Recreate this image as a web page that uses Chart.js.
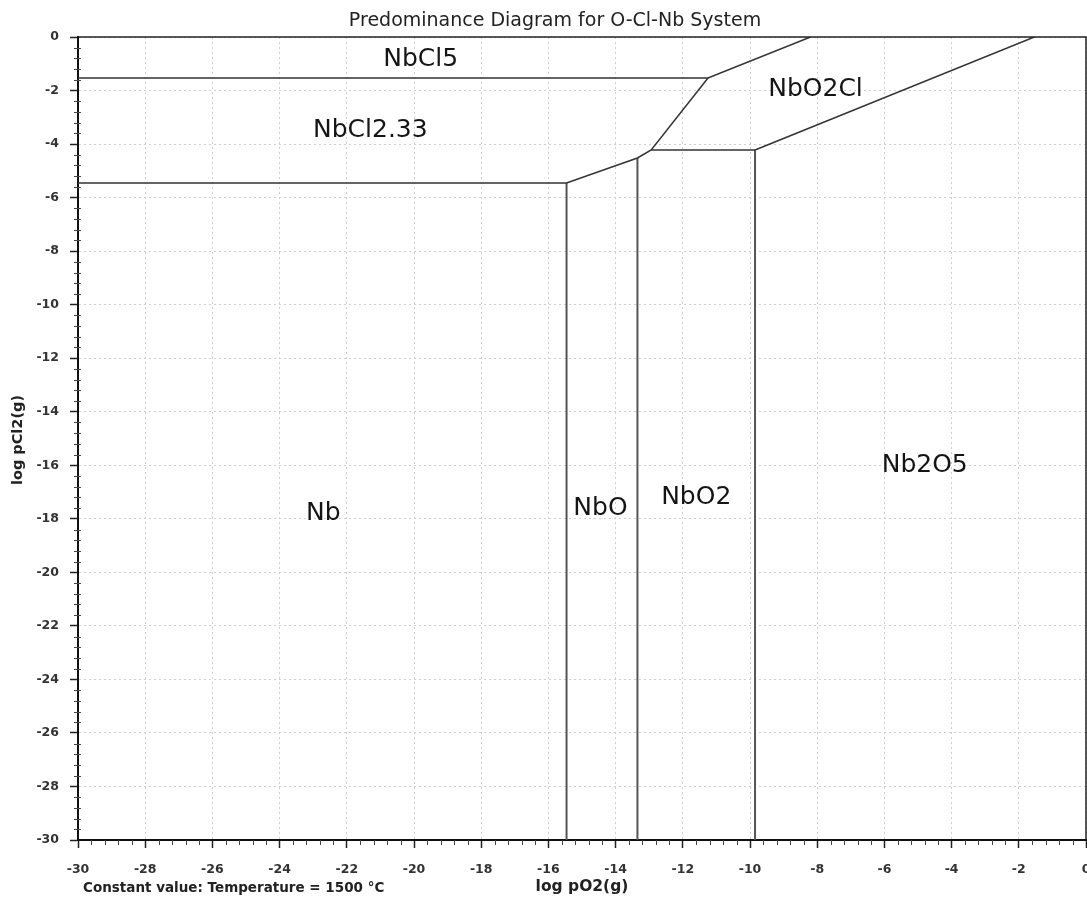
<!DOCTYPE html>
<html>
<head>
<meta charset="utf-8">
<script src="https://cdn.jsdelivr.net/npm/chart.js@4.4.0/dist/chart.umd.min.js"></script>
<style>
  html, body { margin: 0; padding: 0; background: #fff; }
  #chart { display: block; }
</style>
</head>
<body>
<canvas id="chart" width="1087" height="900"></canvas>
<script>
// axis ranges (log pO2 on x, log pCl2 on y)
var xRange = [-30, 0];
var yRange = [-30, 0];
var majorStep = 2;
var minorStep = 0.4;

// phase boundaries
var boundaryNames = [
  "NbCl5 / NbCl2.33-NbO2Cl",
  "NbCl2.33 / Nb-NbO-NbO2-NbO2Cl",
  "Nb / NbO",
  "NbO / NbO2",
  "NbO2 / NbO2Cl",
  "NbO2 / Nb2O5",
  "NbO2Cl / Nb2O5"
];
var boundaryX = [
  [-30, -11.25, -8.2],
  [-30, -15.46, -13.35, -12.94, -11.25],
  [-15.46, -15.46],
  [-13.35, -13.35],
  [-12.94, -9.85],
  [-9.85, -9.85],
  [-9.85, -1.54]
];
var boundaryY = [
  [-1.53, -1.53, 0],
  [-5.45, -5.45, -4.52, -4.22, -1.53],
  [-5.45, -30],
  [-4.52, -30],
  [-4.22, -4.22],
  [-4.22, -30],
  [-4.22, 0]
];

// predominant species labels
var regionNames = ["NbCl5", "NbCl2.33", "NbO2Cl", "Nb2O5", "Nb", "NbO", "NbO2"];
var regionX = [-19.8, -21.3, -8.05, -4.8, -22.7, -14.45, -11.6];
var regionY = [-0.85, -3.5, -1.95, -16.0, -17.8, -17.6, -17.2];

var chartTitle = "Predominance Diagram for O-Cl-Nb System";
var xTitle = "log pO2(g)";
var yTitle = "log pCl2(g)";
var footNote = "Constant value: Temperature = 1500 \u00B0C";

var datasets = [];
for (var i = 0; i < boundaryNames.length; i++) {
  var pts = [];
  for (var j = 0; j < boundaryX[i].length; j++) {
    pts.push({ x: boundaryX[i][j], y: boundaryY[i][j] });
  }
  var vertical = boundaryX[i][0] === boundaryX[i][boundaryX[i].length - 1];
  datasets.push({
    label: boundaryNames[i],
    data: pts,
    showLine: true,
    pointRadius: 0,
    borderColor: vertical ? "#555" : "#333",
    borderWidth: vertical ? 2 : 1.5,
    tension: 0
  });
}

var decor = {
  id: "decor",
  afterDraw: function (chart) {
    var ctx = chart.ctx;
    var area = chart.chartArea;
    var xs = chart.scales.x;
    var ys = chart.scales.y;
    ctx.save();

    // top and right frame
    ctx.strokeStyle = "#222";
    ctx.lineWidth = 1.5;
    ctx.beginPath();
    ctx.moveTo(area.left, area.top);
    ctx.lineTo(area.right, area.top);
    ctx.lineTo(area.right, area.bottom);
    ctx.stroke();

    // minor ticks
    ctx.strokeStyle = "#444";
    ctx.lineWidth = 1;
    var n = Math.round((xRange[1] - xRange[0]) / minorStep);
    ctx.beginPath();
    for (var k = 0; k <= n; k++) {
      if (k % 5 === 0) continue;
      var px = Math.round(xs.getPixelForValue(xRange[0] + k * minorStep)) + 0.5;
      ctx.moveTo(px, area.bottom);
      ctx.lineTo(px, area.bottom + 5);
      var py = Math.round(ys.getPixelForValue(yRange[0] + k * minorStep)) + 0.5;
      ctx.moveTo(area.left - 4, py);
      ctx.lineTo(area.left + 3, py);
    }
    ctx.stroke();

    // region labels
    ctx.fillStyle = "#151515";
    ctx.font = "25px 'DejaVu Sans'";
    ctx.textAlign = "center";
    ctx.textBaseline = "middle";
    for (var r = 0; r < regionNames.length; r++) {
      ctx.fillText(regionNames[r], xs.getPixelForValue(regionX[r]), ys.getPixelForValue(regionY[r]));
    }

    // titles
    ctx.fillStyle = "#222";
    ctx.font = "19px 'DejaVu Sans'";
    ctx.fillText(chartTitle, 555, 21);

    ctx.textBaseline = "alphabetic";
    ctx.font = "bold 15.5px 'DejaVu Sans'";
    ctx.fillText(xTitle, 582, 891);
    ctx.textAlign = "left";
    ctx.font = "bold 13.5px 'DejaVu Sans'";
    ctx.fillText(footNote, 83, 892);

    ctx.translate(18, 440);
    ctx.rotate(-Math.PI / 2);
    ctx.textAlign = "center";
    ctx.textBaseline = "middle";
    ctx.font = "bold 14.5px 'DejaVu Sans'";
    ctx.fillText(yTitle, 0, 0);

    ctx.restore();
  }
};

function fixWidth(scale) {
  scale.width = 78;
  scale.paddingTop = 0;
  scale.paddingBottom = 0;
}
function fixHeight(scale) {
  scale.height = 60;
  scale.paddingLeft = 0;
  scale.paddingRight = 0;
}

var tickFont = { family: "'DejaVu Sans'", size: 12.5, weight: "bold" };

var chart = new Chart(document.getElementById("chart").getContext("2d"), {
  type: "scatter",
  data: { datasets: datasets },
  options: {
    responsive: false,
    animation: false,
    layout: { padding: { top: 37, right: 1, bottom: 0, left: 0 } },
    plugins: {
      legend: { display: false },
      tooltip: { enabled: false },
      title: { display: false }
    },
    scales: {
      x: {
        type: "linear",
        min: xRange[0],
        max: xRange[1],
        ticks: { stepSize: majorStep, color: "#333", font: tickFont, padding: 14, maxRotation: 0 },
        grid: { color: "#cfcfcf", lineWidth: 1, tickLength: 8, tickColor: "#222", tickWidth: 1.5 },
        border: { display: true, color: "#111", width: 2, dash: [2, 3] },
        afterFit: fixHeight
      },
      y: {
        type: "linear",
        min: yRange[0],
        max: yRange[1],
        ticks: { stepSize: majorStep, color: "#333", font: tickFont, padding: 11 },
        grid: { color: "#cfcfcf", lineWidth: 1, tickLength: 8, tickColor: "#222", tickWidth: 1.5 },
        border: { display: true, color: "#111", width: 2, dash: [2, 3] },
        afterFit: fixWidth
      }
    }
  },
  plugins: [decor]
});
</script>
</body>
</html>
